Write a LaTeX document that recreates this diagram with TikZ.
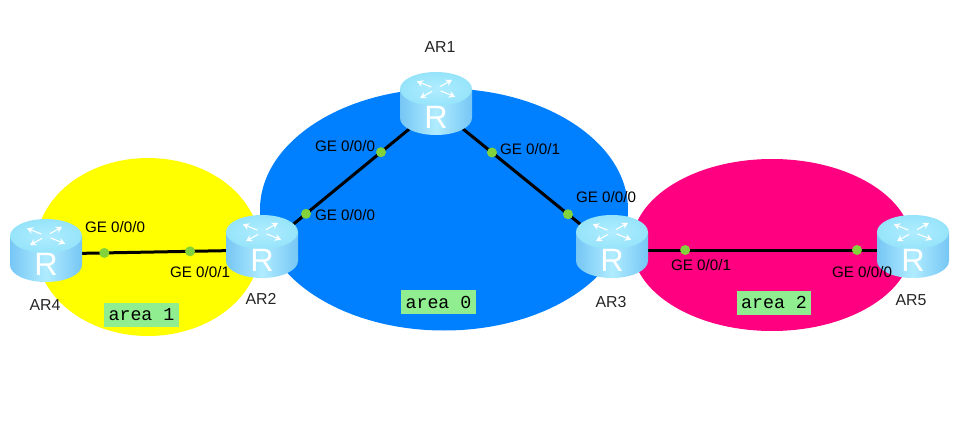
\documentclass[tikz,border=0pt]{standalone}
\usepackage{fontspec}
\setmainfont{Liberation Sans}
\newfontfamily\areafont{Liberation Mono}
\usetikzlibrary{arrows.meta, backgrounds, positioning}
\definecolor{area_yellow}{RGB}{255,255,0}
\definecolor{area_blue}{RGB}{0,128,255}
\definecolor{area_pink}{RGB}{255,0,128}
\definecolor{area_green}{RGB}{144,238,144}
\definecolor{port_green}{RGB}{130,210,60}
\definecolor{router_dark}{RGB}{118,198,245}
\definecolor{router_light}{RGB}{176,236,255}
\definecolor{router_top}{RGB}{150,228,250}
\newcommand{\routerletter}{\smash{\raisebox{-15pt}{\fontsize{23}{23}\selectfont R}}}
\tikzset{
  routerbody/.pic={
    \shade[left color=router_dark, right color=router_dark, middle color=router_light]
      (-36,-18) -- (-36,11) arc[start angle=180, end angle=360, x radius=36, y radius=-17] -- (36,-18) -- cycle;
    \shade[inner color=router_light, outer color=router_top] (0,-18) ellipse[x radius=36, y radius=17];
    \foreach \a in {40,130,220,310} {
      \draw[white, line width=0.8pt, -{Stealth[length=4.5pt, width=5pt]}]
        ({6*cos(\a)},{-18+3*sin(\a)}) -- ({25*cos(\a)},{-18+12*sin(\a)});
    }
  },
  router/.style={rectangle, minimum width=18mm, minimum height=16mm, inner sep=0pt, text=white},
  port/.style={circle, fill=port_green, minimum size=2.5mm, inner sep=0pt},
  portlabel/.style={font=\fontsize{10.8}{12}\selectfont},
  namelabel/.style={font=\fontsize{11.3}{13}\selectfont, text=black!85},
  areabox/.style={fill=area_green, minimum width=18.6mm, minimum height=6mm, inner sep=0pt, font=\areafont\fontsize{13}{14}\selectfont},
  link/.style={draw=black, line width=0.75mm}
}
\begin{document}
\begin{tikzpicture}[x=0.25mm, y=-0.25mm]
  \useasboundingbox (0,0) rectangle (970,435);
  \foreach \name/\x/\y in {AR1/436/107, AR2/262/250, AR3/612/250, AR4/46/254, AR5/913/250} {
    \pic at (\x,\y) {routerbody};
    \node[router] (\name) at (\x,\y) {\routerletter};
  }
  \begin{scope}[on background layer]
    \fill[area_yellow] (148,247) ellipse[x radius=112, y radius=89];
    \fill[area_pink] (772,245) ellipse[x radius=140, y radius=86];
    \fill[area_blue] (444,209.5) ellipse[x radius=184, y radius=121];
    \path[link] (AR4.center) -- node[port, pos=0.27] (p4a) {} node[port, pos=0.667] (p2b) {} (AR2.center);
    \path[link] (AR2.center) -- node[port, pos=0.253] (p2a) {} node[port, pos=0.684] (p1a) {} (AR1.center);
    \path[link] (AR1.center) -- node[port, pos=0.318] (p1b) {} node[port, pos=0.75] (p3a) {} (AR3.center);
    \path[link] (AR3.center) -- node[port, pos=0.243] (p3b) {} node[port, pos=0.814] (p5a) {} (AR5.center);
  \end{scope}
  % interface names
  \node[portlabel] (l4a) at (115,227) {GE 0/0/0};
  \node[portlabel] (l2b) at (200,272) {GE 0/0/1};
  \node[portlabel] (l2a) at (345,215) {GE 0/0/0};
  \node[portlabel] (l1a) at (345,146) {GE 0/0/0};
  \node[portlabel] (l1b) at (530,149) {GE 0/0/1};
  \node[portlabel] (l3a) at (606,197) {GE 0/0/0};
  \node[portlabel] (l3b) at (701,265) {GE 0/0/1};
  \node[portlabel] (l5a) at (862,272) {GE 0/0/0};
  % router names
  \node[namelabel] (n1) at (440,47) {AR1};
  \node[namelabel] (n2) at (261,299) {AR2};
  \node[namelabel] (n3) at (611,302) {AR3};
  \node[namelabel] (n4) at (45,305) {AR4};
  \node[namelabel] (n5) at (911,300) {AR5};
  % areas
  \node[areabox] (a1) at (141.5,315) {area 1};
  \node[areabox] (a0) at (438.5,302) {area 0};
  \node[areabox] (a2) at (774,302.5) {area 2};
\end{tikzpicture}
\end{document}
